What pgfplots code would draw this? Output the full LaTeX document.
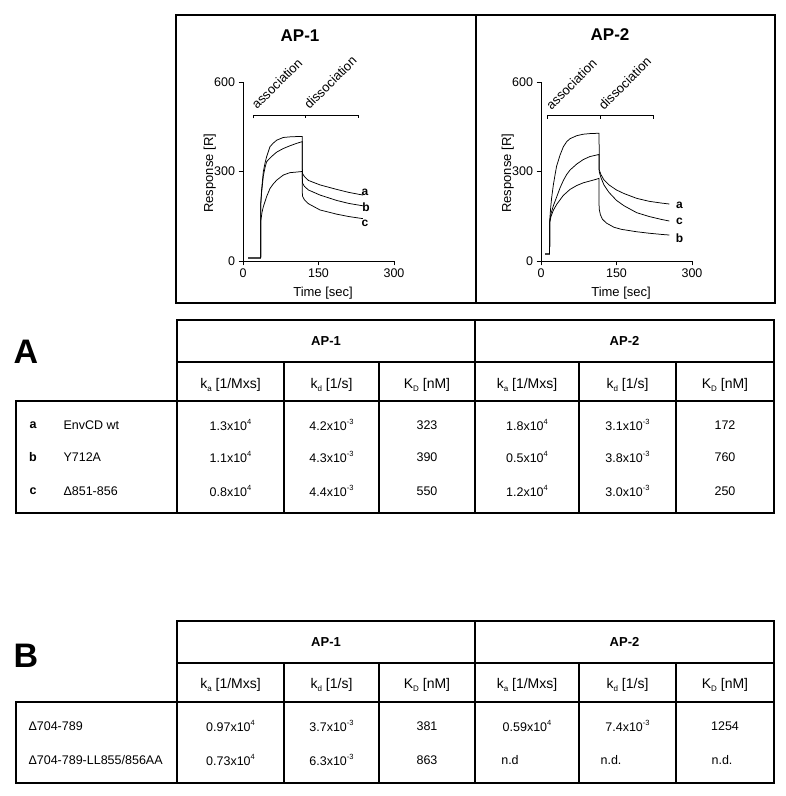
\documentclass[border=0pt]{standalone}
\usepackage{pgfplots}
\pgfplotsset{compat=1.18}
\usepackage{fontspec}
\setmainfont{Liberation Sans}
\newcommand\fs[1]{\fontsize{#1bp}{#1bp}\selectfont}
\newcommand\sbs[1]{\raisebox{-0.35ex}{\fs{8}#1}}
\newcommand\sps[1]{\raisebox{0.95ex}{\fs{7.5}#1}}
\pgfplotsset{
  sensor/.style={
    scale only axis, width=151bp, height=179bp,
    xmin=0, xmax=300, ymin=0, ymax=600,
    axis lines=left, axis line style={-, line width=0.9bp},
    xtick={0,150,300}, ytick={0,300,600},
    tick align=outside, major tick length=4.5bp,
    tick style={line width=0.9bp, black},
    tick label style={font=\fs{12.5}},
    /pgf/number format/assume math mode=true,
    xlabel={Time [sec]}, ylabel={Response [R]},
    label style={font=\fs{13}},
    xlabel style={at={(axis description cs:0.53,-0.18)}, anchor=center},
    ylabel style={at={(axis description cs:-0.22,0.49)}, anchor=center},
    clip=false, anchor=south west,
  },
  crv/.style={black, line width=0.75bp, mark=none},
}
\tikzset{tl/.style={line width=1.4bp, black}}
\begin{document}
\begin{tikzpicture}[x=1bp,y=1bp]
\useasboundingbox (0,0) rectangle (786,796);
% ---------- AP-1 sensorgram ----------
\begin{axis}[sensor, at={(243bp,535bp)}]
\addplot[crv] coordinates {(10,10) (35,10) (35.5,200) (37,240) (40.4,300) (44,330) (47,350) (53.6,383) (60,395) (67,405) (80,414) (93,416) (106,417) (117.5,417) (118,294) (122,283) (130,270) (153,255) (186,240) (210,230) (238,221)};
\addplot[crv] coordinates {(10,10) (35,10) (35.5,195) (37,230) (40.4,285) (44,315) (47,333) (53.6,345) (60,355) (67,365) (80,377) (93,386) (106,394) (117.5,400) (118,262) (122,250) (130,238) (153,221) (186,203) (210,193) (238,185)};
\addplot[crv] coordinates {(10,10) (35,10) (35.5,137) (38,165) (40.4,182) (47,216) (53.6,243) (60,258) (67,271) (80,288) (93,296) (106,298) (117.5,300) (118,218) (122,205) (130,192) (153,171) (186,157) (210,149) (238,142)};
\draw[line width=0.8bp] (axis cs:20,478) -- (axis cs:20,489) -- (axis cs:230,489) -- (axis cs:230,478);
\draw[line width=0.8bp] (axis cs:123,489) -- (axis cs:123,478);
\node[rotate=45, anchor=base west, font=\fs{13}, inner sep=0pt] at (axis cs:28,506) {association};
\node[rotate=45, anchor=base west, font=\fs{13}, inner sep=0pt] at (axis cs:132,506) {dissociation};
\node[font=\bfseries\fs{12}] at (axis cs:242.5,231) {a};
\node[font=\bfseries\fs{12}] at (axis cs:244.5,181) {b};
\node[font=\bfseries\fs{12}] at (axis cs:242.5,127) {c};
\end{axis}
% ---------- AP-2 sensorgram ----------
\begin{axis}[sensor, at={(541bp,535bp)}]
\addplot[crv] coordinates {(8,23) (17,23) (17.5,140) (19,175) (21,210) (24.5,255) (28,290) (31,318) (37.8,355) (44.4,383) (51,400) (57.7,410) (71,420) (84,425) (97,427) (112,428) (115.3,428) (115.8,305) (119,290) (125,272) (135,255) (150,238) (165,226) (190,210) (215,200) (240,194) (255,191)};
\addplot[crv] coordinates {(8,23) (17,23) (17.5,135) (20,160) (24.5,185) (31.2,215) (37.8,245) (44.4,270) (51,290) (57.7,305) (71,325) (84,340) (97,350) (110,355) (115,357) (115.5,300) (119,280) (125,255) (135,230) (150,203) (165,185) (190,162) (215,149) (240,139) (255,134)};
\addplot[crv] coordinates {(8,23) (17,23) (17.5,130) (20,150) (24.5,170) (31.2,190) (37.8,205) (44.4,220) (57.7,240) (71,253) (84,262) (97,268) (110,274) (115,277) (115.5,175) (118,155) (122,140) (130,127) (145,113) (160,106) (190,98) (215,93) (240,89) (255,87)};
\draw[line width=0.8bp] (axis cs:12.6,476) -- (axis cs:12.6,487) -- (axis cs:223,487) -- (axis cs:223,476);
\draw[line width=0.8bp] (axis cs:117,487) -- (axis cs:117,476);
\node[rotate=45, anchor=base west, font=\fs{13}, inner sep=0pt] at (axis cs:21,504) {association};
\node[rotate=45, anchor=base west, font=\fs{13}, inner sep=0pt] at (axis cs:125,504) {dissociation};
\node[font=\bfseries\fs{12}] at (axis cs:275,188) {a};
\node[font=\bfseries\fs{12}] at (axis cs:275,132) {c};
\node[font=\bfseries\fs{12}] at (axis cs:275,76) {b};
\end{axis}
% ---------- boxes, titles and tables (pixel coordinates, y downward) ----------
\begin{scope}[x=1bp, y=-1bp, yshift=796bp]
\draw[line width=1.2bp] (176,15) rectangle (775,303);
\draw[line width=1.2bp] (476,15) -- (476,303);
\node[font=\bfseries\fs{17}] at (300,36) {AP-1};
\node[font=\bfseries\fs{17}] at (610,35) {AP-2};
% ---- Table A ----
\draw[tl] (177,320) rectangle (774,401);
\draw[tl] (177,362) -- (774,362);
\draw[tl] (16,401) rectangle (774,513);
\draw[tl] (177,320) -- (177,513);
\draw[tl] (475,320) -- (475,513);
\foreach \x in {284,379,579,676} \draw[tl] (\x,362) -- (\x,513);
\node[font=\bfseries\fs{34}] at (26,352) {A};
\begin{scope}[every node/.style={font=\fs{12.5}}]
\node[font=\bfseries\fs{13}] at (326,341) {AP-1};
\node[font=\bfseries\fs{13}] at (624.5,341) {AP-2};
\node[font=\fs{14}] at (230.5,385) {k\sbs{a} [1/Mxs]};
\node[font=\fs{14}] at (331.5,385) {k\sbs{d} [1/s]};
\node[font=\fs{14}] at (427,385) {K\sbs{D} [nM]};
\node[font=\fs{14}] at (527,385) {k\sbs{a} [1/Mxs]};
\node[font=\fs{14}] at (627.5,385) {k\sbs{d} [1/s]};
\node[font=\fs{14}] at (725,385) {K\sbs{D} [nM]};
\node[font=\bfseries\fs{12.5}] at (33,425) {a};
\node[font=\bfseries\fs{12.5}] at (33,457) {b};
\node[font=\bfseries\fs{12.5}] at (33,491) {c};
\node[anchor=west] at (60,425) {EnvCD wt};
\node[anchor=west] at (60,457) {Y712A};
\node[anchor=west] at (60,491) {Δ851-856};
\node at (230.5,425) {1.3x10\sps{4}};
\node at (331.5,425) {4.2x10\sps{-3}};
\node at (427,425) {323};
\node at (527,425) {1.8x10\sps{4}};
\node at (627.5,425) {3.1x10\sps{-3}};
\node at (725,425) {172};
\node at (230.5,457) {1.1x10\sps{4}};
\node at (331.5,457) {4.3x10\sps{-3}};
\node at (427,457) {390};
\node at (527,457) {0.5x10\sps{4}};
\node at (627.5,457) {3.8x10\sps{-3}};
\node at (725,457) {760};
\node at (230.5,491) {0.8x10\sps{4}};
\node at (331.5,491) {4.4x10\sps{-3}};
\node at (427,491) {550};
\node at (527,491) {1.2x10\sps{4}};
\node at (627.5,491) {3.0x10\sps{-3}};
\node at (725,491) {250};
\end{scope}
% ---- Table B ----
\draw[tl] (177,621) rectangle (774,702);
\draw[tl] (177,663) -- (774,663);
\draw[tl] (16,702) rectangle (774,783);
\draw[tl] (177,621) -- (177,783);
\draw[tl] (475,621) -- (475,783);
\foreach \x in {284,379,579,676} \draw[tl] (\x,663) -- (\x,783);
\node[font=\bfseries\fs{34}] at (26,656) {B};
\begin{scope}[every node/.style={font=\fs{12.5}}]
\node[font=\bfseries\fs{13}] at (326,642) {AP-1};
\node[font=\bfseries\fs{13}] at (624.5,642) {AP-2};
\node[font=\fs{14}] at (230.5,685) {k\sbs{a} [1/Mxs]};
\node[font=\fs{14}] at (331.5,685) {k\sbs{d} [1/s]};
\node[font=\fs{14}] at (427,685) {K\sbs{D} [nM]};
\node[font=\fs{14}] at (527,685) {k\sbs{a} [1/Mxs]};
\node[font=\fs{14}] at (627.5,685) {k\sbs{d} [1/s]};
\node[font=\fs{14}] at (725,685) {K\sbs{D} [nM]};
\node[anchor=west] at (25,726) {Δ704-789};
\node[anchor=west] at (25,760) {Δ704-789-LL855/856AA};
\node at (230.5,726) {0.97x10\sps{4}};
\node at (331.5,726) {3.7x10\sps{-3}};
\node at (427,726) {381};
\node at (527,726) {0.59x10\sps{4}};
\node at (627.5,726) {7.4x10\sps{-3}};
\node at (725,726) {1254};
\node at (230.5,760) {0.73x10\sps{4}};
\node at (331.5,760) {6.3x10\sps{-3}};
\node at (427,760) {863};
\node at (510,760) {n.d};
\node at (611,760) {n.d.};
\node at (722,760) {n.d.};
\end{scope}
\end{scope}
\end{tikzpicture}
\end{document}
